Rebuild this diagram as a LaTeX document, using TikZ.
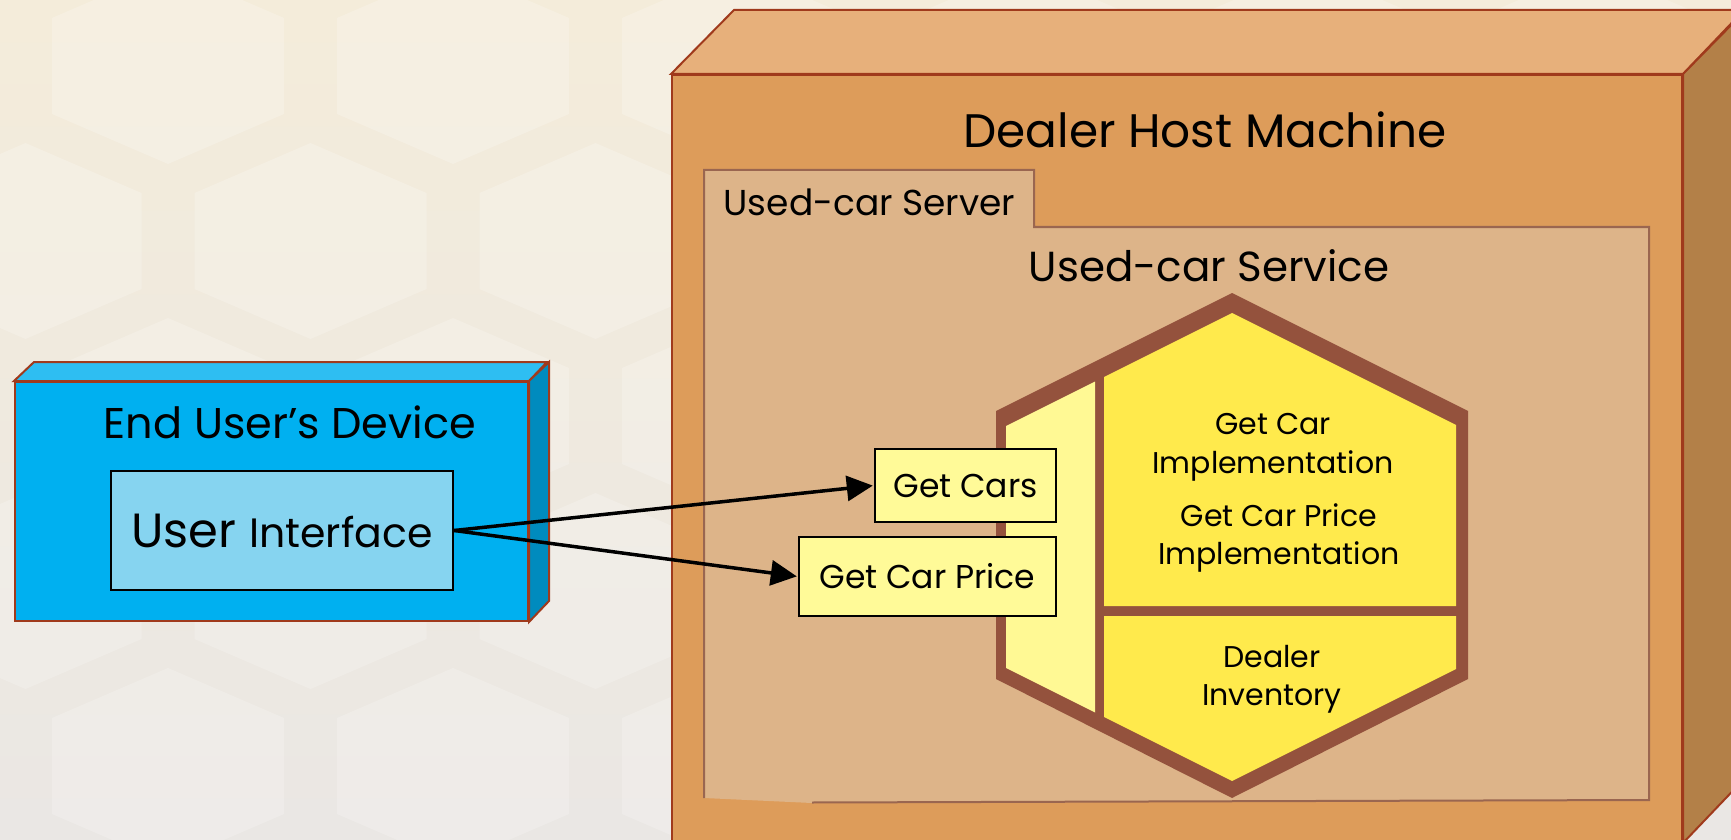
\documentclass[tikz,border=0pt]{standalone}
\usepackage{fontspec}
\setmainfont{Poppins}
\usetikzlibrary{arrows.meta}

\definecolor{bgTop}{RGB}{244,236,218}
\definecolor{bgBot}{RGB}{234,231,228}
\definecolor{devFront}{RGB}{0,176,240}
\definecolor{devTop}{RGB}{46,190,242}
\definecolor{devSide}{RGB}{0,139,190}
\definecolor{edgeRed}{RGB}{160,58,28}
\definecolor{uiFill}{RGB}{134,212,240}
\definecolor{hostFront}{RGB}{221,156,90}
\definecolor{hostTop}{RGB}{231,176,123}
\definecolor{hostSide}{RGB}{179,128,72}
\definecolor{pkgFill}{RGB}{221,180,137}
\definecolor{pkgEdge}{RGB}{154,102,80}
\definecolor{hexBrown}{RGB}{148,82,61}
\definecolor{hexYellow}{RGB}{255,234,76}
\definecolor{hexPale}{RGB}{255,249,148}
\definecolor{boxFill}{RGB}{255,250,152}

\tikzset{
  edge/.style={draw=edgeRed, line width=1pt, line join=miter},
  blockbox/.style={rectangle, inner sep=0pt, draw=black, line width=1.2pt},
  opbox/.style={blockbox, fill=boxFill, font=\fontsize{16.5pt}{20pt}\selectfont},
  title/.style={anchor=base, inner sep=0pt},
  impl/.style={anchor=base, inner sep=0pt, font=\fontsize{15pt}{18pt}\selectfont},
  conn/.style={draw=black, line width=1.75pt,
    -{Triangle[length=13pt, width=12.5pt]}, shorten >=0.5pt},
  honey/.style={fill=white, opacity=0.2}
}

\begin{document}
\begin{tikzpicture}[x=0.5pt, y=-0.5pt]
\useasboundingbox (0,0) rectangle (1731,840);
\clip (0,0) rectangle (1731,840);

% backdrop with a faint honeycomb
\shade[top color=bgTop, bottom color=bgBot] (0,0) rectangle (1731,840);
\foreach \r in {0,...,5} {
  \foreach \k in {-1,...,6} {
    \pgfmathsetmacro{\cx}{168 + 285*\k + 142.5*mod(\r,2)}
    \pgfmathsetmacro{\cy}{66 + 175*\r}
    \fill[honey] (\cx,\cy) ++(0,-98) -- ++(116,50) -- ++(0,96)
      -- ++(-116,50) -- ++(-116,-50) -- ++(0,-96) -- cycle;
  }
}

% ---- Dealer host machine (3D node) ----
\node[rectangle, inner sep=0pt, edge, fill=hostFront,
      minimum width=505pt, minimum height=383.5pt] (host) at (1177,458.5) {};
\draw[edge, fill=hostTop] (host.north west) -- ++(63,-64) -- ++(1010,0)
  -- (host.north east) -- cycle;
\draw[edge, fill=hostSide] (host.north east) -- ++(63,-64) -- ++(0,767)
  -- (host.south east) -- cycle;
\node[title, font=\fontsize{23.5pt}{28pt}\selectfont] (hostlabel)
  at (1205,148) {Dealer Host Machine};

% ---- Used-car server package ----
\fill[pkgFill] (704,170) -- (1034,170) -- (1034,227) -- (1649,227)
  -- (1649,800) -- (812,803) -- (704,798) -- cycle;
\draw[draw=pkgEdge, line width=1pt] (812,802.5) -- (1649,800) -- (1649,227)
  -- (1034,227) -- (1034,170) -- (704,170) -- (704,798);
\node[title, font=\fontsize{18pt}{22pt}\selectfont] (serverlabel)
  at (869.5,215) {Used-car Server};
\node[title, font=\fontsize{21pt}{26pt}\selectfont] (servicelabel)
  at (1209,281) {Used-car Service};

% ---- Used-car service hexagon ----
\fill[hexBrown] (1232,293) -- (1468,411) -- (1468,679) -- (1232,798)
  -- (996,679) -- (996,411) -- cycle;
\fill[hexPale] (1006,426) -- (1095,381.5) -- (1095,712.5) -- (1006,668) -- cycle;
\fill[hexYellow] (1104,377) -- (1232,313) -- (1456,425) -- (1456,606)
  -- (1104,606) -- cycle;
\fill[hexYellow] (1104,616) -- (1456,616) -- (1456,669) -- (1232,781)
  -- (1104,717) -- cycle;

\node[impl] (impA1) at (1273,434) {Get Car};
\node[impl] (impA2) at (1273,473) {Implementation};
\node[impl] (impB1) at (1279,526) {Get Car Price};
\node[impl] (impB2) at (1279,564) {Implementation};
\node[impl] (invA) at (1272,667) {Dealer};
\node[impl] (invB) at (1272,705) {Inventory};

% ---- interface operations ----
\node[opbox, minimum width=90.5pt, minimum height=36.5pt] (getcars)
  at (965.5,485.5) {Get Cars};
\node[opbox, minimum width=128.5pt, minimum height=39.5pt] (getprice)
  at (927.5,576.5) {Get Car Price};

% ---- End user's device (3D node) ----
\node[rectangle, inner sep=0pt, edge, fill=devFront,
      minimum width=256.5pt, minimum height=119.5pt] (device) at (271.5,501.5) {};
\draw[edge, fill=devTop] (device.north west) -- ++(20,-19) -- ++(513,0)
  -- (device.north east) -- cycle;
\draw[edge, fill=devSide] (device.north east) -- ++(20,-19) -- ++(0,239)
  -- (device.south east) -- cycle;
\node[title, font=\fontsize{21.5pt}{26pt}\selectfont] (devicelabel)
  at (290,438) {End User’s Device};
\node[blockbox, fill=uiFill, minimum width=171pt, minimum height=59.5pt] (ui)
  at (282,530.5) {\fontsize{24pt}{30pt}\selectfont User\
  \fontsize{20.5pt}{26pt}\selectfont Interface};

% ---- calls ----
\draw[conn] (ui.east) -- (getcars.west);
\draw[conn] (ui.east) -- (getprice.west);
\end{tikzpicture}
\end{document}
